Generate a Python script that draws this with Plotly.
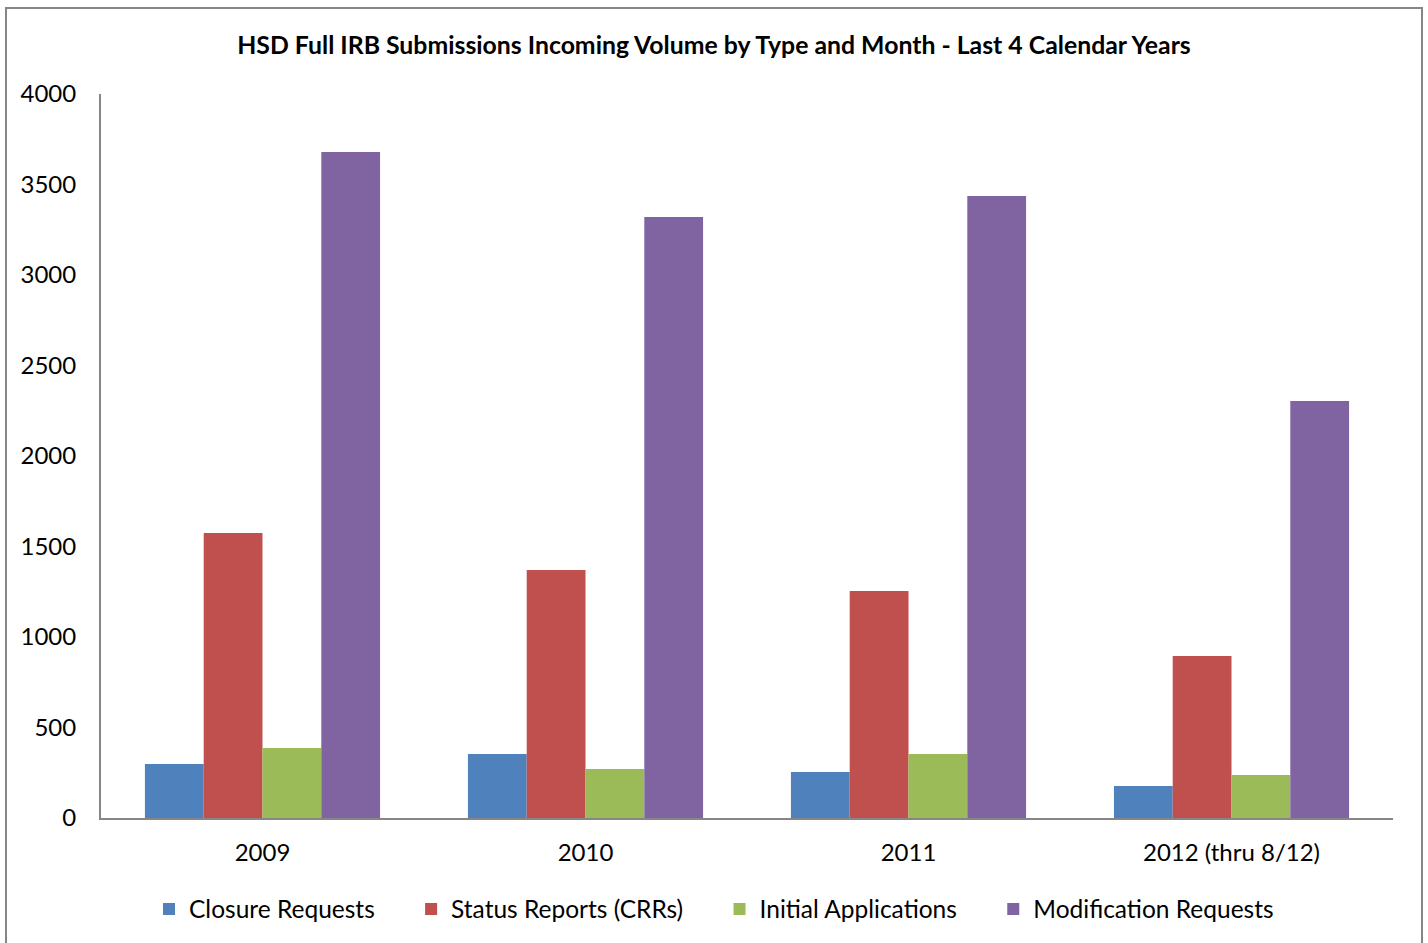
import plotly.graph_objects as go

years = ["2009", "2010", "2011", "2012 (thru 8/12)"]
closure = [298, 354, 254, 177]
status = [1575, 1370, 1254, 895]
initial = [387, 271, 354, 238]
modification = [3680, 3321, 3437, 2304]

pad = "\u00a0" * 5
series = [
    ("Closure Requests" + pad, closure, "#4F81BD"),
    ("Status Reports (CRRs)" + pad, status, "#C0504D"),
    ("Initial Applications" + pad, initial, "#9BBB59"),
    ("Modification Requests", modification, "#8064A2"),
]

fig = go.Figure()
for name, vals, col in series:
    fig.add_trace(go.Bar(x=years, y=vals, name=name, marker_color=col,
                         marker_line_width=0))

W, H = 1428, 943
ml, mr, mt, mb = 101, 35, 94, 125
pw, ph = W - ml - mr, H - mt - mb

fig.update_layout(
    width=W, height=H,
    margin=dict(l=ml, r=mr, t=mt, b=mb),
    paper_bgcolor="white", plot_bgcolor="white",
    font=dict(family="Lato, Carlito, Noto Sans, sans-serif", size=24, color="black"),
    title=dict(text="<b>HSD Full IRB Submissions Incoming Volume by Type and Month - Last 4 Calendar Years</b>",
               x=0.5, xref="container", y=1 - 45 / H, yanchor="middle", font=dict(size=24.8)),
    barmode="group", bargap=0.272, bargroupgap=0,
    showlegend=True,
    legend=dict(orientation="h", x=0.5, xanchor="center", xref="container",
                y=1 - 909 / H, yref="container", yanchor="middle",
                font=dict(size=24.5), itemwidth=30, traceorder="normal"),
)
fig.update_xaxes(showline=True, linecolor="#868686", linewidth=2, ticks="",
                 showgrid=False, tickfont=dict(size=24), ticklabelstandoff=12)
fig.update_yaxes(range=[0, 4000], dtick=500, showline=True, linecolor="#868686",
                 linewidth=2, showgrid=False, zeroline=False, ticks="",
                 tickfont=dict(size=24), ticklabelstandoff=18)

# outer chart border
fig.add_shape(type="rect", xref="paper", yref="paper",
              x0=(6 - ml) / pw, x1=(1422 - ml) / pw,
              y0=-(H + 5 - (H - mb)) / ph, y1=(H - 8 - mb) / ph,
              line=dict(color="#868686", width=2), fillcolor="rgba(0,0,0,0)", layer="below")

fig.write_html("out.html", config={"displayModeBar": False},
               post_script="document.body.style.margin='0';")
